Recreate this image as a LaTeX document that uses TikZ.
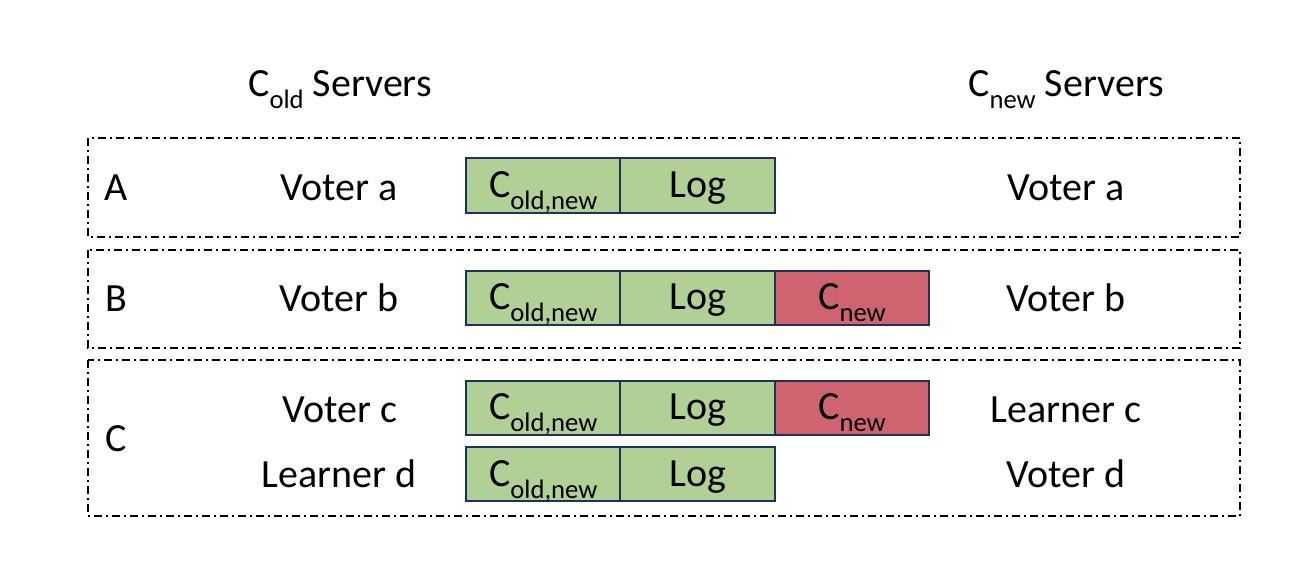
\documentclass[tikz,border=0pt]{standalone}
\usepackage{fontspec}
\setmainfont{Carlito}
\usepackage{xcolor}
\usetikzlibrary{positioning}

\definecolor{logGreen}{HTML}{B0D096}
\definecolor{logRed}{HTML}{CF6470}
\definecolor{logEdge}{HTML}{1F3257}

% lowered subscript text
\newcommand{\lowsub}[1]{\raisebox{-0.3em}{\fontsize{20}{24}\selectfont #1}}

\begin{document}
\begin{tikzpicture}[x=0.75pt, y=-0.75pt,
	    every node/.style={font=\fontsize{30}{36}\selectfont},
	    lbl/.style={anchor=base, inner sep=0pt},
	    grp/.style={line width=1.1pt, dash pattern=on 6pt off 3pt on 1.5pt off 3pt},
	    cell/.style={draw=logEdge, line width=1.5pt, fill=logGreen, outer sep=0pt,
	      inner sep=0pt, minimum width=115.8pt, minimum height=41pt,
	      text height=22pt, text depth=4pt},
	    cellnew/.style={cell, fill=logRed}
	  ]
	  \useasboundingbox (0,0) rectangle (1302,580);
	 
	  % headings
	  \node[lbl] (hold) at (340,97) {C\lowsub{old} Servers};
	  \node[lbl] (hnew) at (1066,97) {C\lowsub{new} Servers};
	 
	  % dash-dot groups
	  \draw[grp] (88,138) rectangle (1240,237);
	  \draw[grp] (88,250) rectangle (1240,348);
	  \draw[grp] (88,360) rectangle (1240,516);
	 
	  \node[lbl] (tA) at (116,201) {A};
	  \node[lbl] (tB) at (116,312) {B};
	  \node[lbl] (tC) at (116,451) {C};
	 
	  % old side
	  \node[lbl] (oa) at (339,201) {Voter a};
	  \node[lbl] (ob) at (339,312) {Voter b};
	  \node[lbl] (oc) at (340,422) {Voter c};
	  \node[lbl] (od) at (339,487) {Learner d};
	 
	  % new side
	  \node[lbl] (na) at (1066,201) {Voter a};
	  \node[lbl] (nb) at (1066,312) {Voter b};
	  \node[lbl] (nc) at (1066,422) {Learner c};
	  \node[lbl] (nd) at (1066,487) {Voter d};
	 
	  % logs
	  \node[cell] (a1) at (543.2,185.5) {C\lowsub{old,new}};
	  \node[cell, right=0pt of a1] (a2) {Log};
	 
	  \node[cell] (b1) at (543.2,298) {C\lowsub{old,new}};
	  \node[cell, right=0pt of b1] (b2) {Log};
	  \node[cellnew, right=0pt of b2] (b3) {C\lowsub{new}};
	 
	  \node[cell] (c1) at (543.2,408) {C\lowsub{old,new}};
	  \node[cell, right=0pt of c1] (c2) {Log};
	  \node[cellnew, right=0pt of c2] (c3) {C\lowsub{new}};
	 
	  \node[cell] (d1) at (543.2,474) {C\lowsub{old,new}};
	  \node[cell, right=0pt of d1] (d2) {Log};
	\end{tikzpicture}
\end{document}
